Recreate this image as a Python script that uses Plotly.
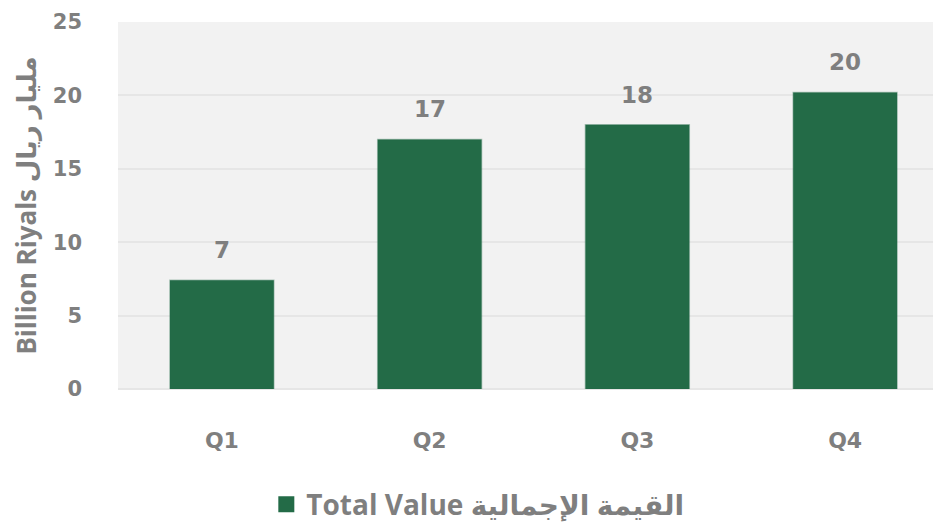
import plotly.graph_objects as go

quarters = ["Q1", "Q2", "Q3", "Q4"]
values = [7.4, 17.0, 18.0, 20.2]
labels = ["7", "17", "18", "20"]
y_ticks = [0, 5, 10, 15, 20, 25]

green = "#236b47"
grey = "#7f7f7f"
num_font = "'DejaVu Sans', sans-serif"
txt_font = "'Open Sans', 'DejaVu Sans', sans-serif"

fig = go.Figure()

fig.add_trace(go.Bar(
    x=quarters, y=values, width=0.5,
    marker=dict(color=green, line=dict(color="rgba(35,107,71,0.35)", width=1.5)),
    showlegend=False, hoverinfo="skip",
))

# legend entry with a larger square than the default bar swatch
fig.add_trace(go.Scatter(
    x=[None], y=[None], mode="markers",
    marker=dict(symbol="square", size=22, color=green),
    name="Total Value القيمة الإجمالية",
))

for q, v, t in zip(quarters, values, labels):
    fig.add_annotation(
        x=q, y=v, text=t, showarrow=False, yshift=30, yanchor="middle",
        font=dict(family=num_font, size=23, color=grey, weight="bold"),
    )

# page body has an 8px margin, so offsets are trimmed by 8 on left/top
fig.update_layout(
    width=941, height=525,
    margin=dict(l=110, r=0, t=14, b=144),
    paper_bgcolor="white",
    plot_bgcolor="#f2f2f2",
    font=dict(family=txt_font, size=20, color=grey, weight="bold"),
    xaxis=dict(
        range=[-0.5, 3.5], showgrid=False, fixedrange=True, automargin=False,
        ticklabelstandoff=36,
        tickfont=dict(family=num_font, size=22, color=grey, weight="bold"),
    ),
    yaxis=dict(
        range=[0, 25], tickvals=y_ticks, showgrid=True, automargin=False,
        gridcolor="#e6e6e6", gridwidth=1.5,
        zeroline=True, zerolinecolor="#e6e6e6", zerolinewidth=1.5,
        ticklabelstandoff=35,
        tickfont=dict(family=num_font, size=21, color=grey, weight="bold"),
        title=dict(text="Billion Riyals مليار ريال", standoff=16,
                   font=dict(family=txt_font, size=26, color=grey, weight="bold")),
    ),
    legend=dict(
        orientation="h", x=0.433, xanchor="center",
        y=-0.315, yanchor="middle",
        font=dict(family=txt_font, size=28, color=grey, weight="bold"),
    ),
)

fig.write_html("out.html")
